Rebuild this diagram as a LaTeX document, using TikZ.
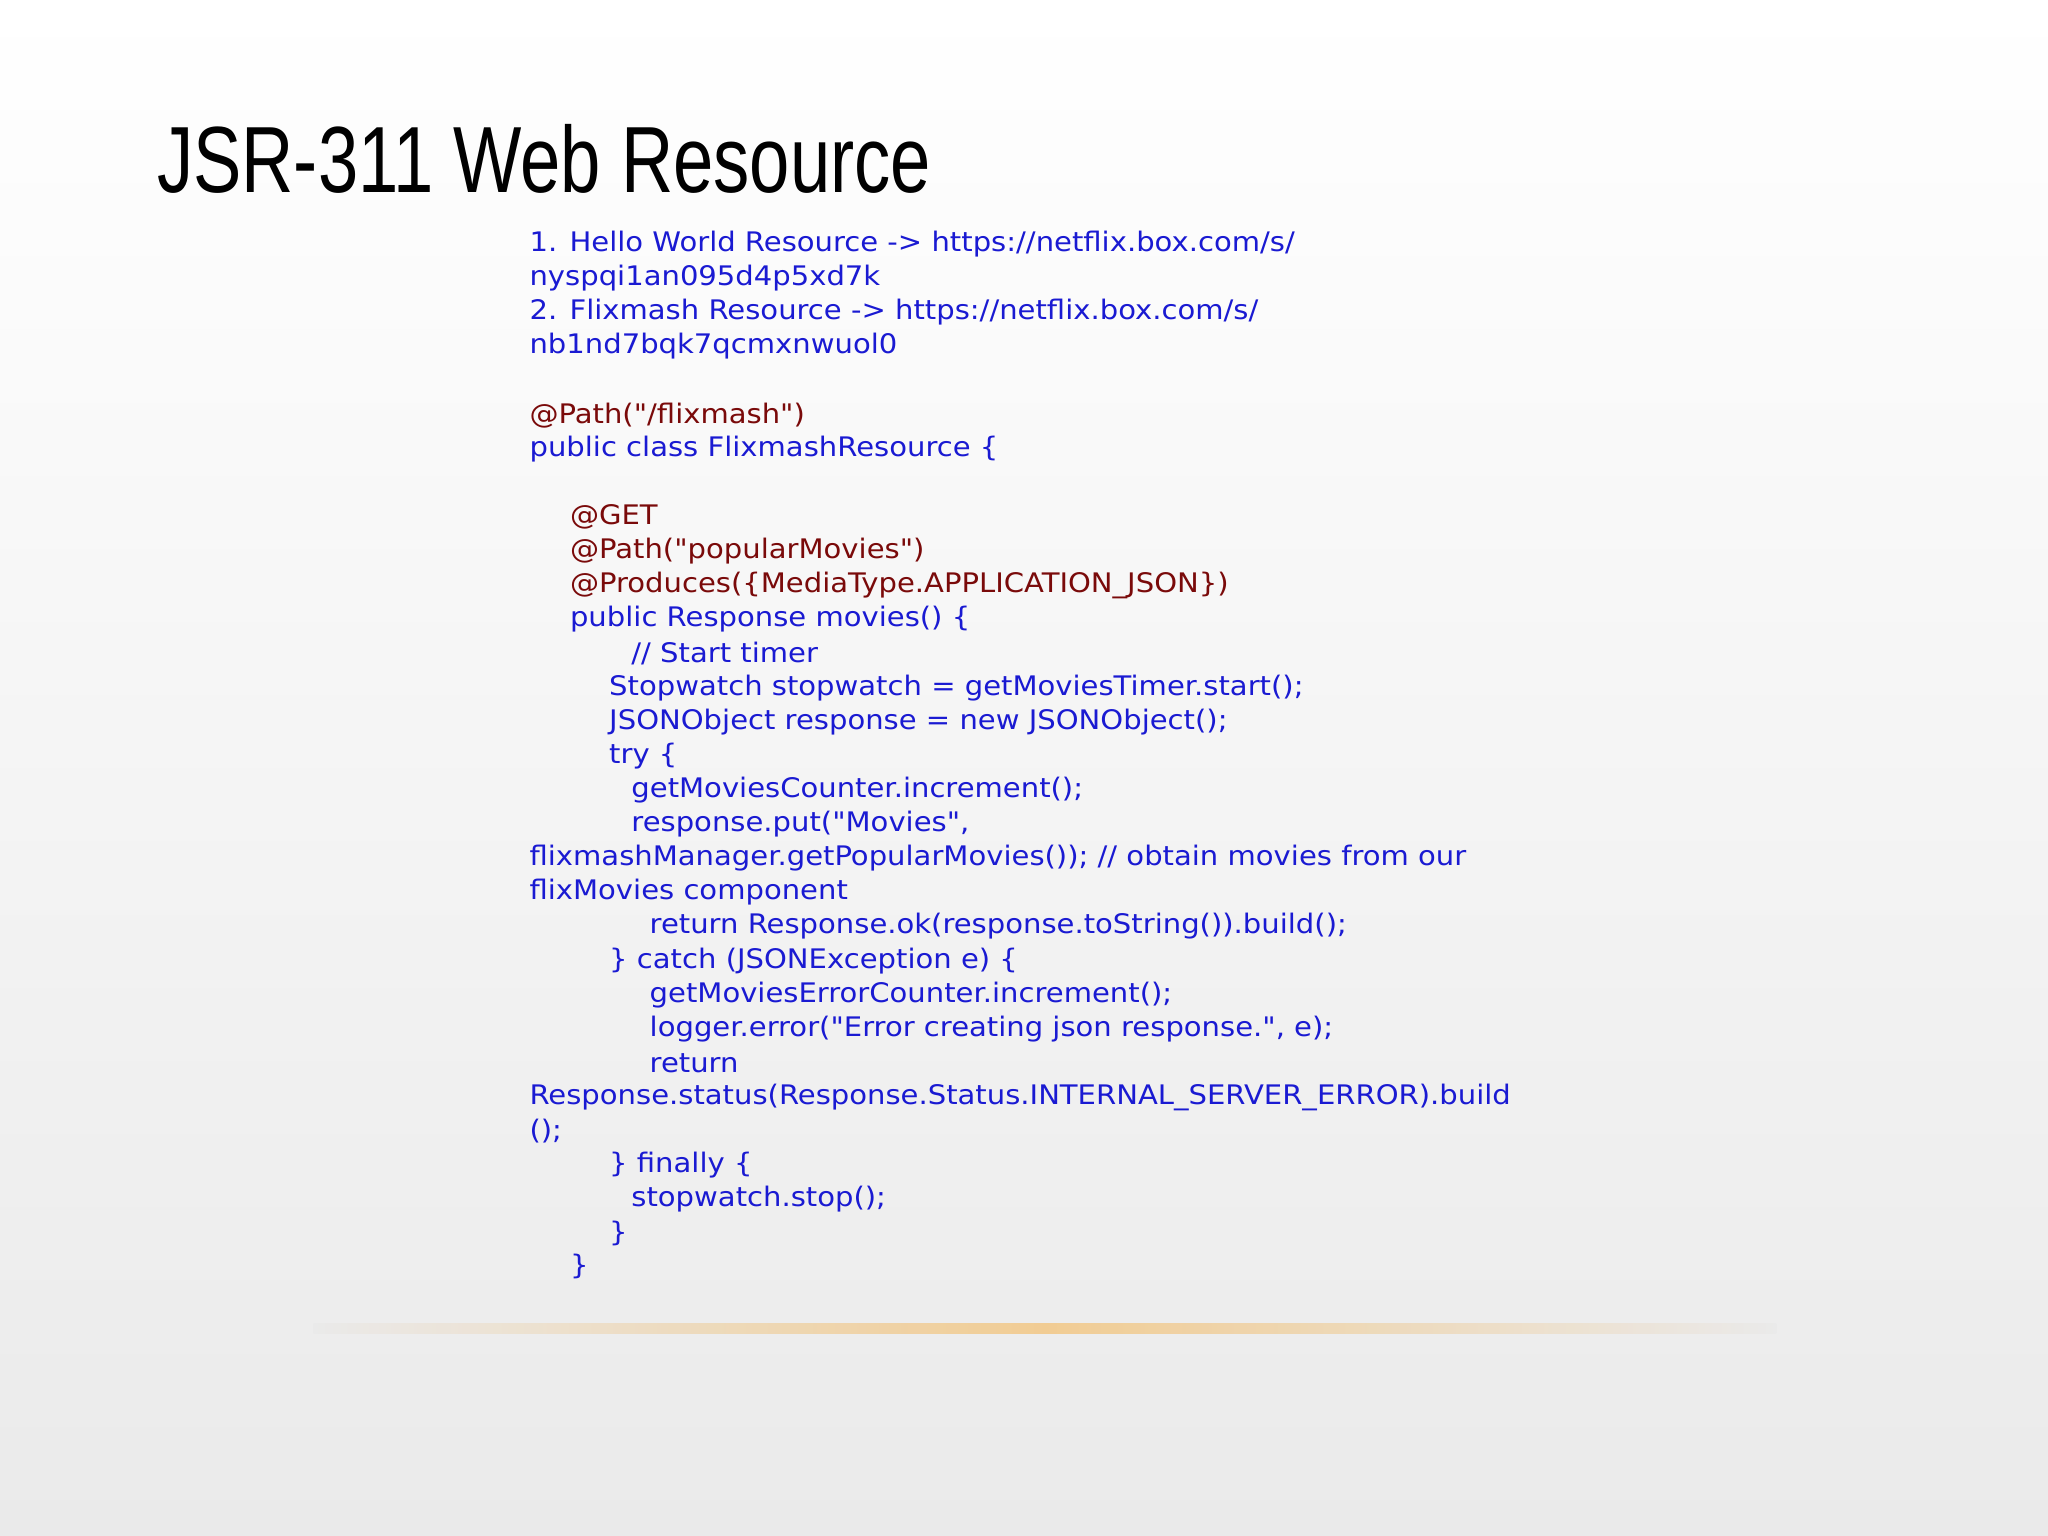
\documentclass[tikz,border=0pt]{standalone}
\usepackage{fontspec}
\setmainfont{DejaVu Sans}[Ligatures=TeXOff]
\newfontfamily\titlefont{Liberation Sans}
\definecolor{codeblue}{HTML}{1A1AD2}
\definecolor{codered}{HTML}{7A0A0A}
\definecolor{bgbot}{HTML}{EAEAEA}
\definecolor{glow}{HTML}{F2C98A}
\tikzset{
  cl/.style={anchor=west,inner sep=0pt,font=\fontsize{10.3}{12}\selectfont,text=codeblue,xscale=1.08},
  rl/.style={cl,text=codered}
}
\begin{document}
\begin{tikzpicture}[x=0.5pt,y=-0.5pt]
\useasboundingbox (0,0) rectangle (1568,1176);
\shade[top color=white,bottom color=bgbot] (0,0) rectangle (1568,1176);
\shade[left color=bgbot,right color=bgbot,middle color=glow,opacity=0.9] (240,1013) rectangle (1360,1021);
\node[anchor=west,inner sep=0pt,font=\titlefont\fontsize{36}{40}\selectfont,xscale=0.77] (title) at (120,122) {JSR-311 Web Resource};
\node[cl] (l1) at (405,187) {1. Hello World Resource -> https://netflix.box.com/s/};
\node[cl] (l2) at (405,213) {nyspqi1an095d4p5xd7k};
\node[cl] (l3) at (405,239) {2. Flixmash Resource -> https://netflix.box.com/s/};
\node[cl] (l4) at (405,265) {nb1nd7bqk7qcmxnwuol0};
\node[rl] (l6) at (405,318) {@Path("/flixmash")};
\node[cl] (l7) at (405,344) {public class FlixmashResource \{};
\node[rl] (l9) at (436,396) {@GET};
\node[rl] (l10) at (436,422) {@Path("popularMovies")};
\node[rl] (l11) at (436,448) {@Produces(\{MediaType.APPLICATION\_JSON\})};
\node[cl] (l12) at (436,474) {public Response movies() \{};
\node[cl] (l13) at (483,500) {// Start timer};
\node[cl] (l14) at (466,527) {Stopwatch stopwatch = getMoviesTimer.start();};
\node[cl] (l15) at (466,553) {JSONObject response = new JSONObject();};
\node[cl] (l16) at (466,579) {try \{};
\node[cl] (l17) at (483,605) {getMoviesCounter.increment();};
\node[cl] (l18) at (483,631) {response.put("Movies",};
\node[cl] (l19) at (405,657) {flixmashManager.getPopularMovies()); // obtain movies from our};
\node[cl] (l20) at (405,683) {flixMovies component};
\node[cl] (l21) at (497,709) {return Response.ok(response.toString()).build();};
\node[cl] (l22) at (466,736) {\} catch (JSONException e) \{};
\node[cl] (l23) at (497,762) {getMoviesErrorCounter.increment();};
\node[cl] (l24) at (497,788) {logger.error("Error creating json response.", e);};
\node[cl] (l25) at (497,814) {return};
\node[cl] (l26) at (405,840) {Response.status(Response.Status.INTERNAL\_SERVER\_ERROR).build};
\node[cl] (l27) at (405,866) {();};
\node[cl] (l28) at (466,892) {\} finally \{};
\node[cl] (l29) at (483,918) {stopwatch.stop();};
\node[cl] (l30) at (466,944) {\}};
\node[cl] (l31) at (436,970) {\}};
\end{tikzpicture}
\end{document}
